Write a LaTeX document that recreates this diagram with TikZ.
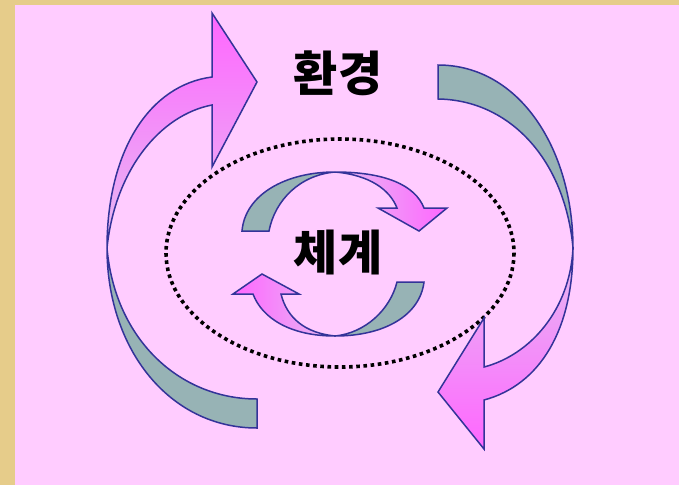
\documentclass[tikz,border=0pt]{standalone}
\usepackage{fontspec}
\newfontfamily\kor{Noto Sans CJK KR}
\definecolor{parch}{HTML}{E6CC8A}
\definecolor{pinkbg}{HTML}{FFCCFF}
\definecolor{greyband}{HTML}{97B3B5}
\definecolor{magent}{HTML}{FF66FF}
\definecolor{lilac}{HTML}{E6BCF2}
\definecolor{rim}{HTML}{333399}

\begin{document}
\begin{tikzpicture}[x=1pt,y=-1pt,
  band/.style={draw=rim,line width=1.5pt,fill=greyband},
  tipband/.style={draw=rim,line width=1.5pt},
  word/.style={font=\kor\bfseries\fontsize{48}{50}\selectfont}]
    \useasboundingbox (0,0) rectangle (679,485);
    \fill[parch] (0,0) rectangle (679,485);
    \fill[pinkbg] (15,5) rectangle (679,485);
    % crossing points of the ribbons
    \coordinate (bl) at (107,248);
    \coordinate (br) at (573,248);
    \coordinate (st) at (335,172);
    \coordinate (sb) at (335,336);
    \draw[line width=3.6pt,dash pattern=on 3.6pt off 3.6pt] (340,253) ellipse [x radius=174,y radius=114];
    % big loop
    \draw[band] (bl) .. controls (107,350) and (170,428) .. (257,428) -- (257,399)
        .. controls (180,399) and (115,340) .. (bl) -- cycle;
    \draw[tipband,top color=magent,bottom color=lilac] (bl) .. controls (107,150) and (150,85) .. (212,77)
        -- (212,13) -- (257,82) -- (212,167) -- (212,105)
        .. controls (160,115) and (115,170) .. (bl) -- cycle;
    \draw[band] (438,65) .. controls (520,65) and (573,150) .. (br)
        .. controls (565,160) and (510,100) .. (438,99) -- cycle;
    \draw[tipband,top color=lilac,bottom color=magent] (br) .. controls (573,330) and (540,385) .. (484,400)
        -- (484,449) -- (438,392) -- (484,318) -- (484,367)
        .. controls (530,355) and (570,310) .. (br) -- cycle;
    % small loop
    \draw[band] (242,231) .. controls (245,195) and (285,172) .. (st)
        .. controls (300,175) and (275,200) .. (269,231) -- cycle;
    \draw[tipband,left color=lilac,right color=magent] (st) .. controls (385,172) and (415,185) .. (424,208)
        -- (447,208) -- (419,231) -- (378,208) -- (397,208)
        .. controls (390,190) and (370,175) .. (st) -- cycle;
    \draw[band] (424,282) .. controls (420,315) and (385,336) .. (sb)
        .. controls (365,333) and (390,310) .. (397,282) -- cycle;
    \draw[tipband,left color=magent,right color=lilac] (sb) .. controls (290,336) and (262,318) .. (253,294)
        -- (233,294) -- (262,274) -- (299,294) -- (281,294)
        .. controls (287,318) and (305,333) .. (sb) -- cycle;
    \node[word] (env) at (338,73) {환경};
    \node[word] (sys) at (338,252) {체계};
\end{tikzpicture}
\end{document}
